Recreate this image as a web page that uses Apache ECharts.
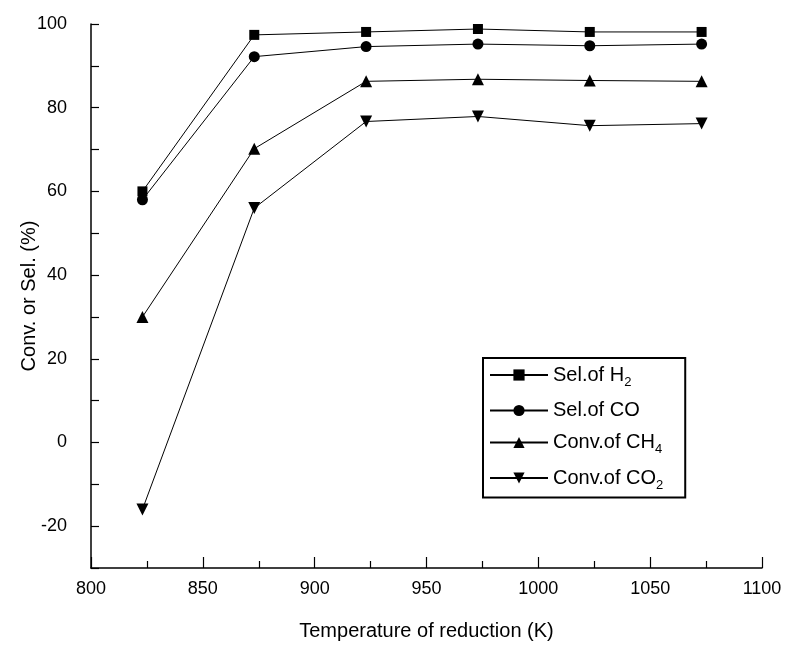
<!DOCTYPE html>
<html>
<head>
<meta charset="utf-8">
<script src="https://cdn.jsdelivr.net/npm/echarts@6/dist/echarts.min.js"></script>
<style>
  html, body { margin: 0; padding: 0; background: #fff; }
  #chart { width: 792px; height: 646px; }
</style>
</head>
<body>
<div id="chart"></div>
<script>
// Reduction temperature (K) and measured performance (%)
const temperatures = [823, 873, 923, 973, 1023, 1073];
const selH2  = [60.0, 97.4, 98.1, 98.8, 98.1, 98.1];
const selCO  = [58.0, 92.2, 94.6, 95.2, 94.8, 95.2];
const convCH4 = [30.0, 70.2, 86.3, 86.8, 86.5, 86.3];
const convCO2 = [-16.0, 56.0, 76.7, 77.9, 75.7, 76.2];

const seriesNames = ['Sel.of H2', 'Sel.of CO', 'Conv.of CH4', 'Conv.of CO2'];
const legendLabels = {
  'Sel.of H2': 'Sel.of H{sub|2}',
  'Sel.of CO': 'Sel.of CO',
  'Conv.of CH4': 'Conv.of CH{sub|4}',
  'Conv.of CO2': 'Conv.of CO{sub|2}'
};

const font = 'Liberation Sans, Arial, sans-serif';

function pairs(ys) {
  return temperatures.map((t, i) => [t, ys[i]]);
}

function lineSeries(name, ys, symbol, size, rotate) {
  return {
    name: name,
    type: 'line',
    data: pairs(ys),
    symbol: symbol,
    symbolSize: size,
    symbolRotate: rotate || 0,
    showSymbol: true,
    lineStyle: { color: '#000', width: 1 },
    itemStyle: { color: '#000' },
    emphasis: { disabled: true },
    animation: false
  };
}

const chart = echarts.init(document.getElementById('chart'), null, { renderer: 'canvas' });
chart.setOption({
  backgroundColor: '#fff',
  animation: false,
  grid: { left: 91, right: 30, top: 24, bottom: 74 },
  xAxis: {
    type: 'value',
    min: 800, max: 1100, interval: 50,
    name: 'Temperature of reduction (K)',
    nameLocation: 'middle',
    nameGap: 53,
    nameMoveOverlap: false,
    nameTextStyle: { fontFamily: font, fontSize: 20, color: '#000' },
    axisLine: { show: true, onZero: false, lineStyle: { color: '#000', width: 1.5 } },
    axisTick: { show: true, inside: true, length: 11, lineStyle: { color: '#000', width: 1.2 } },
    minorTick: { show: true, splitNumber: 2, length: 7, lineStyle: { color: '#000', width: 1.2 } },
    axisLabel: { fontFamily: font, fontSize: 18, color: '#000', margin: 12, formatter: v => String(v) },
    splitLine: { show: false }
  },
  yAxis: {
    type: 'value',
    min: -30, max: 100, interval: 10,
    name: 'Conv. or Sel. (%)',
    nameLocation: 'middle',
    nameGap: 52,
    nameMoveOverlap: false,
    nameTextStyle: { fontFamily: font, fontSize: 20, color: '#000' },
    axisLine: { show: true, onZero: false, lineStyle: { color: '#000', width: 1.5 } },
    axisTick: { show: true, inside: true, length: 8, lineStyle: { color: '#000', width: 1.2 } },
    axisLabel: {
      fontFamily: font, fontSize: 18, color: '#000', margin: 24,
      formatter: v => (v % 20 === 0 ? String(v) : '')
    },
    splitLine: { show: false }
  },
  legend: {
    data: seriesNames,
    orient: 'vertical',
    left: 483, top: 358,
    padding: [7, 22, 6, 6],
    itemWidth: 58,
    itemHeight: 14,
    itemGap: 12,
    borderColor: '#000',
    borderWidth: 2,
    selectedMode: false,
    formatter: name => legendLabels[name],
    textStyle: {
      fontFamily: font, fontSize: 20, color: '#000',
      rich: {
        sub: { fontFamily: font, fontSize: 13, color: '#000', padding: [14, 0, 0, 0] }
      }
    }
  },
  series: [
    lineSeries('Sel.of H2', selH2, 'rect', 10),
    lineSeries('Sel.of CO', selCO, 'circle', 11),
    lineSeries('Conv.of CH4', convCH4, 'triangle', 12),
    lineSeries('Conv.of CO2', convCO2, 'triangle', 12, 180)
  ]
});
</script>
</body>
</html>
